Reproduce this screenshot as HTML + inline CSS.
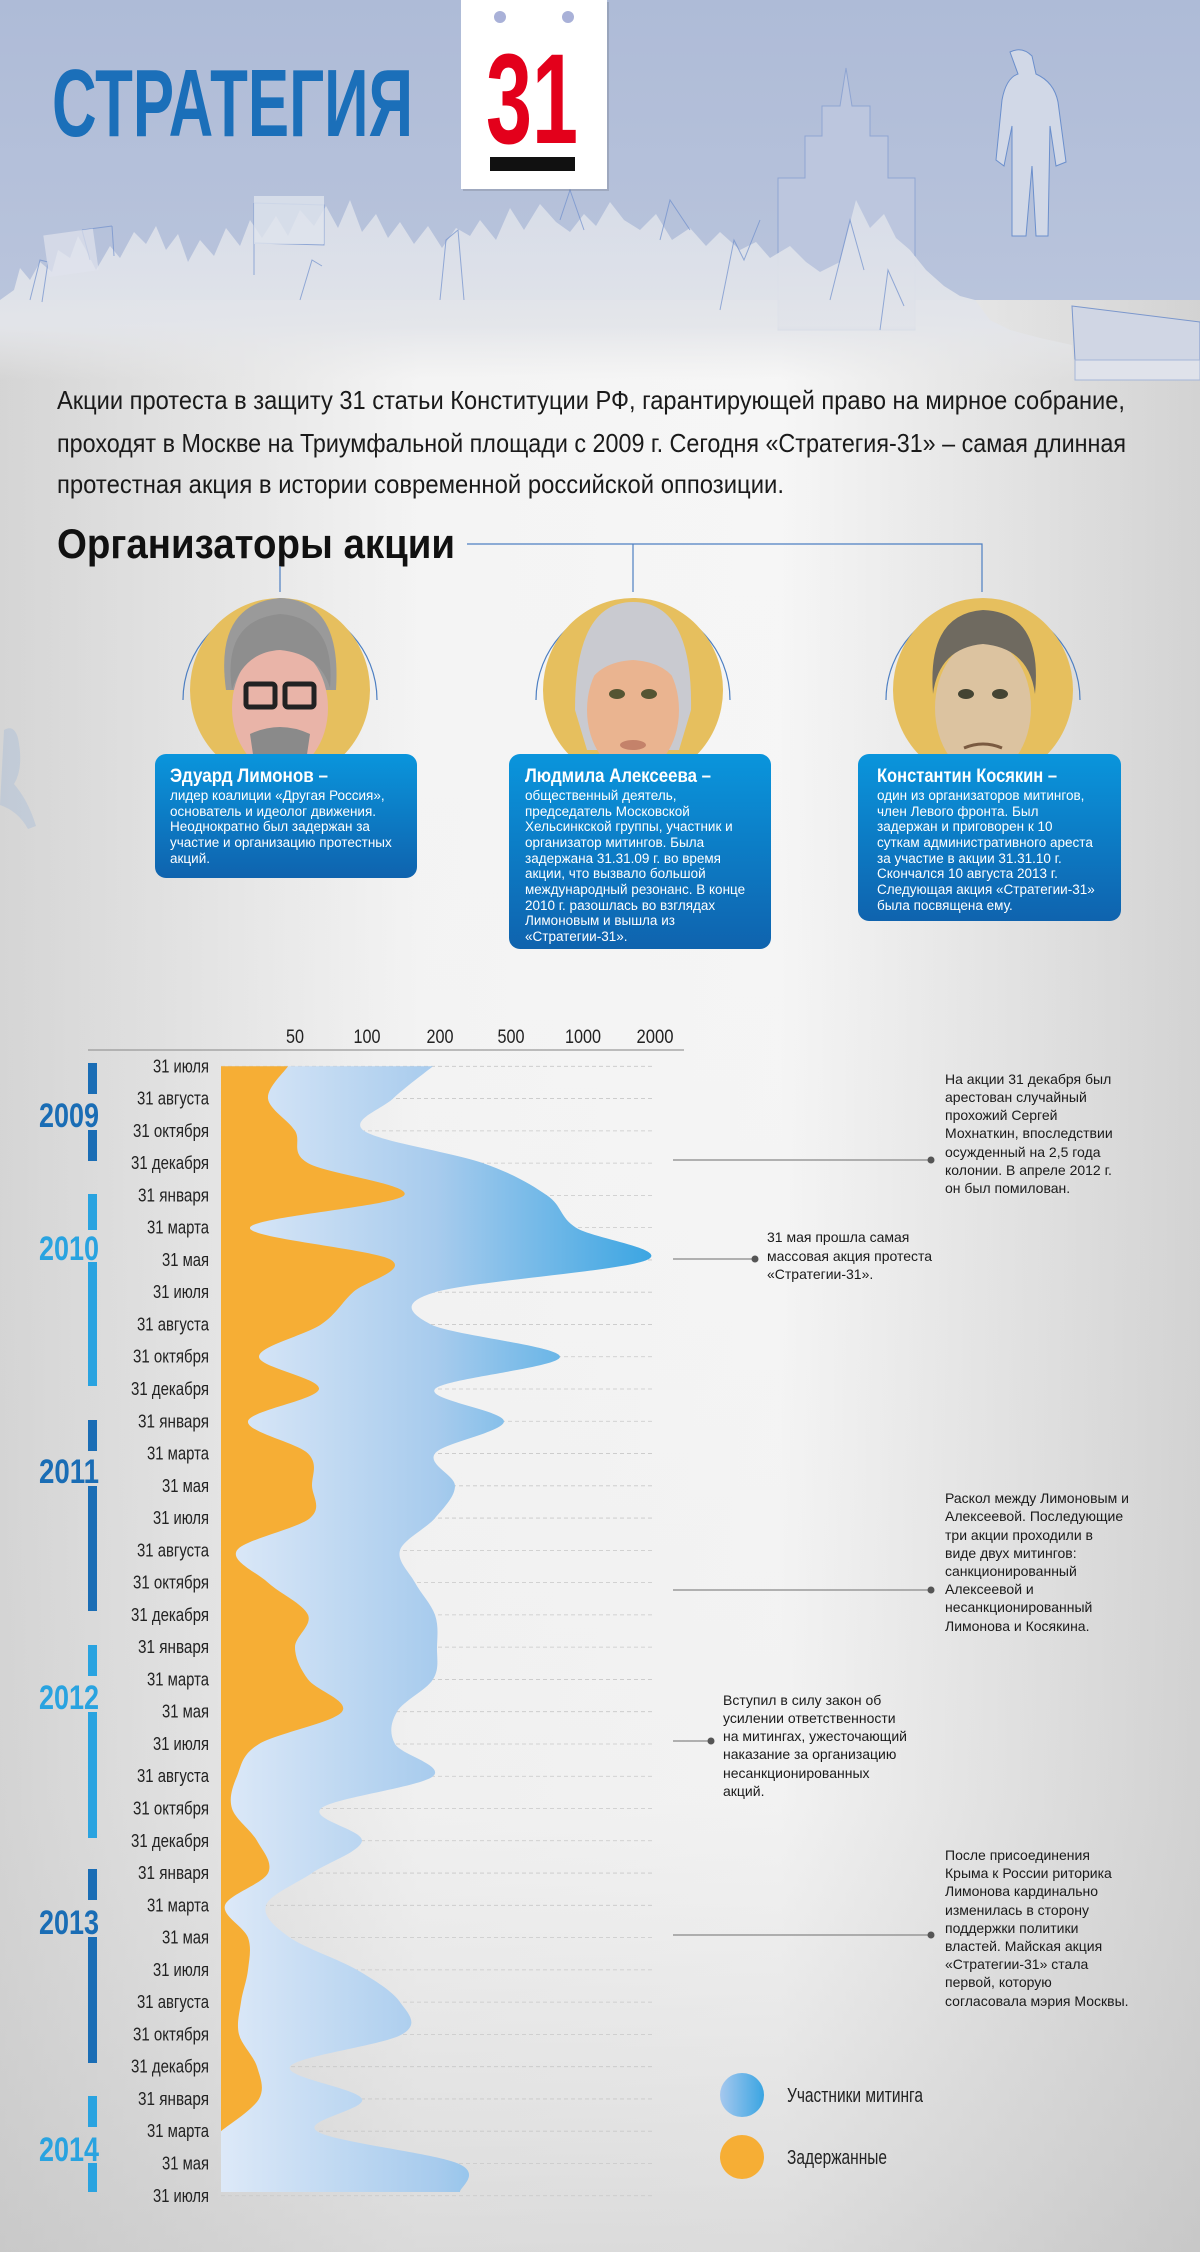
<!DOCTYPE html>
<html><head><meta charset="utf-8">
<style>
html,body{margin:0;padding:0;}
body{width:1200px;height:2252px;overflow:hidden;background:#eee;}
svg{display:block}
text{font-family:"Liberation Sans",sans-serif;}
</style></head>
<body>
<svg id="s" width="1200" height="2252" viewBox="0 0 1200 2252" xmlns="http://www.w3.org/2000/svg">
<defs>
<linearGradient id="bgH" x1="0" y1="0" x2="1" y2="0">
<stop offset="0" stop-color="#d4d4d4"/><stop offset="0.35" stop-color="#f4f4f4"/><stop offset="0.65" stop-color="#f6f6f6"/><stop offset="1" stop-color="#d2d2d2"/>
</linearGradient>
<linearGradient id="bgV" x1="0" y1="0" x2="0" y2="1">
<stop offset="0" stop-color="#fff" stop-opacity="0"/><stop offset="0.8" stop-color="#ccc" stop-opacity="0.1"/><stop offset="1" stop-color="#bbb" stop-opacity="0.45"/>
</linearGradient>
<linearGradient id="head" x1="0" y1="0" x2="0" y2="1">
<stop offset="0" stop-color="#aebbd7"/><stop offset="1" stop-color="#b9c4dc"/>
</linearGradient>
<linearGradient id="crowd" x1="0" y1="0" x2="0" y2="1">
<stop offset="0" stop-color="#d9dee9"/><stop offset="0.7" stop-color="#e3e5ea"/><stop offset="1" stop-color="#e8e8e9" stop-opacity="0"/>
</linearGradient>
<linearGradient id="box" x1="0" y1="0" x2="0" y2="1">
<stop offset="0" stop-color="#0a95dc"/><stop offset="1" stop-color="#0f63ae"/>
</linearGradient>
<linearGradient id="blue" gradientUnits="userSpaceOnUse" x1="221" y1="0" x2="655" y2="0">
<stop offset="0" stop-color="#dde9f8"/><stop offset="0.5" stop-color="#a7cbed"/><stop offset="1" stop-color="#3aa5e2"/>
</linearGradient>
<linearGradient id="legB" x1="0" y1="0" x2="1" y2="0">
<stop offset="0" stop-color="#a6c8ee"/><stop offset="1" stop-color="#3aa5e2"/>
</linearGradient>
</defs>

<rect width="1200" height="2252" fill="url(#bgH)"/>
<rect width="1200" height="2252" fill="url(#bgV)"/>

<rect x="0" y="0" width="1200" height="300" fill="url(#head)"/>
<polygon points="778,330 778,178 805,178 805,136 822,136 822,106 840,106 846,68 852,106 870,106 870,136 888,136 888,178 915,178 915,330" fill="#bcc6de" stroke="#8fa5d2" stroke-width="1"/>
<path d="M1010,52 q12,-6 22,4 l4,18 q18,8 22,28 l8,60 -10,4 -6,-40 -2,110 -12,0 -4,-70 -6,70 -14,0 0,-110 -8,40 -8,-6 6,-60 q4,-22 16,-26 z" fill="#d1d8e7" stroke="#6b8fcc" stroke-width="1"/>
<polygon points="1072,306 1200,322 1200,360 1075,360" fill="#d0d6e4" stroke="#7b97cc" stroke-width="1"/>
<rect x="1075" y="360" width="125" height="20" fill="#dfe2ea" stroke="#a5b6d8" stroke-width="1"/>
<path d="M0,380 L0,300 L14,290 L20,268 L30,280 L40,262 L52,272 L58,250 L70,258 L78,236 L86,250 L96,270 L110,246 L120,258 L134,232 L146,244 L156,226 L166,250 L178,234 L188,262 L200,240 L214,256 L226,228 L240,246 L250,220 L262,238 L276,216 L288,236 L300,210 L314,226 L326,206 L338,228 L350,200 L362,232 L376,214 L388,238 L400,222 L414,244 L428,226 L442,248 L456,228 L470,236 L480,220 L496,240 L510,208 L524,230 L540,204 L556,222 L570,232 L584,214 L596,226 L610,202 L624,220 L640,230 L656,214 L672,240 L690,228 L706,246 L720,232 L740,250 L756,242 L770,258 L790,246 L806,262 L820,272 L840,262 L856,200 L870,228 L884,214 L896,238 L910,250 L926,270 L944,286 L960,296 L975,300 L990,320 L1010,330 L1040,338 L1072,345 L1075,380 Z" fill="url(#crowd)" opacity="0.95"/>
<g stroke="#6f8fcc" stroke-width="1" fill="none" opacity="0.7">
<path d="M30,300 l10,-40 8,2 -6,40"/><path d="M90,260 l-8,-30 M82,230 l30,-4 M112,226 l2,30"/>
<path d="M254,275 l0,-72 M254,203 l70,2 0,40 -70,-2"/><path d="M300,300 l12,-40 10,6"/>
<path d="M440,300 l6,-60 12,-10 6,70"/><path d="M560,220 l10,-30 14,40"/><path d="M660,240 l10,-40 20,30"/>
<path d="M720,310 l14,-70 10,20 16,-40"/><path d="M830,300 l20,-80 14,50"/><path d="M880,330 l8,-60 16,36"/>
</g>
<rect x="254" y="196" width="70" height="48" fill="#dfe3ec" opacity="0.8"/>
<rect x="46" y="232" width="50" height="42" fill="#dfe3ec" opacity="0.7" transform="rotate(-8 70 253)"/>

<rect x="463" y="2" width="146" height="189" fill="#000" opacity="0.12"/>
<rect x="461" y="0" width="146" height="189" fill="#fff"/>
<circle cx="500" cy="17" r="6" fill="#a9b1d8"/>
<circle cx="568" cy="17" r="6" fill="#a9b1d8"/>
<text x="532" y="143" text-anchor="middle" font-size="128" font-weight="bold" fill="#e3001b" textLength="92" lengthAdjust="spacingAndGlyphs">31</text>
<rect x="490" y="157" width="85" height="14" fill="#111"/>

<text x="52" y="136" font-size="96" font-weight="bold" fill="#1b6fb9" textLength="361" lengthAdjust="spacingAndGlyphs">СТРАТЕГИЯ</text>

<g font-size="26" fill="#1a1a1a">
<text x="57" y="409" textLength="1068" lengthAdjust="spacingAndGlyphs">Акции протеста в защиту 31 статьи Конституции РФ, гарантирующей право на мирное собрание,</text>
<text x="57" y="452" textLength="1069" lengthAdjust="spacingAndGlyphs">проходят в Москве на Триумфальной площади с 2009 г. Сегодня «Стратегия-31» – самая длинная</text>
<text x="57" y="493" textLength="727" lengthAdjust="spacingAndGlyphs">протестная акция в истории современной российской оппозиции.</text>
</g>
<text x="57" y="558" font-size="42" font-weight="bold" fill="#111" textLength="398" lengthAdjust="spacingAndGlyphs">Организаторы акции</text>

<g stroke="#4d7fc2" stroke-width="1.2" fill="none">
<path d="M467,544 H982 V592"/><path d="M633,544 V592"/><path d="M280,566 V592"/>
<path d="M183,700 A97,97 0 0 1 377,700"/>
<path d="M536,700 A97,97 0 0 1 730,700"/>
<path d="M886,700 A97,97 0 0 1 1080,700"/>
</g>

<path d="M4,730 q10,-6 14,8 q6,30 -4,46 q14,16 22,42 l-8,3 q-10,-18 -28,-24 z" fill="#9fb6db" opacity="0.35"/>

<g id="faces">
<ellipse cx="280" cy="690" rx="90" ry="92" fill="#e6bf5e"/>
<ellipse cx="633" cy="690" rx="90" ry="92" fill="#e6bf5e"/>
<ellipse cx="983" cy="690" rx="90" ry="92" fill="#e6bf5e"/>
<!-- Limonov -->
<path d="M226,690 q-12,-86 54,-92 q62,2 56,92 z" fill="#9a9a9a"/>
<ellipse cx="280" cy="708" rx="48" ry="64" fill="#e9b4a8"/>
<path d="M232,690 q-10,-70 48,-76 q56,4 50,74 q-10,-34 -50,-38 q-36,2 -48,40z" fill="#8e8e8e"/>
<rect x="246" y="684" width="29" height="23" rx="3" fill="none" stroke="#222" stroke-width="5"/>
<rect x="285" y="684" width="29" height="23" rx="3" fill="none" stroke="#222" stroke-width="5"/>
<path d="M250,734 q30,-14 60,0 l-5,34 q-25,30 -50,0z" fill="#8a8a8a"/>
<!-- Alexeeva -->
<path d="M575,710 q0,-108 58,-108 q60,0 58,108 l-12,40 -92,0z" fill="#c9cad0"/>
<ellipse cx="633" cy="710" rx="46" ry="64" fill="#eab490"/>
<path d="M587,686 q-2,-64 46,-68 q50,2 46,68 q-12,-24 -46,-26 q-34,2 -46,26z" fill="#c9cad0"/>
<ellipse cx="617" cy="694" rx="8" ry="5" fill="#553"/><ellipse cx="649" cy="694" rx="8" ry="5" fill="#553"/>
<ellipse cx="633" cy="745" rx="13" ry="5" fill="#c4826a"/>
<!-- Kosyakin -->
<ellipse cx="983" cy="708" rx="48" ry="68" fill="#dcc3a0"/>
<path d="M933,694 q-6,-80 50,-84 q60,2 52,84 q-6,-46 -52,-50 q-44,4 -50,50z" fill="#6f6a60"/>
<ellipse cx="966" cy="694" rx="8" ry="5" fill="#443"/><ellipse cx="1000" cy="694" rx="8" ry="5" fill="#443"/>
<path d="M964,748 q19,-8 38,0" stroke="#7a5a40" stroke-width="3" fill="none"/>
</g>

<rect x="155" y="754" width="262" height="124" rx="11" fill="url(#box)"/>
<rect x="509" y="754" width="262" height="195" rx="11" fill="url(#box)"/>
<rect x="858" y="754" width="263" height="167" rx="11" fill="url(#box)"/>
<g fill="#fff">
<text x="170" y="782" font-size="19" font-weight="bold" textLength="158" lengthAdjust="spacingAndGlyphs">Эдуард Лимонов –</text>
<text x="525" y="782" font-size="19" font-weight="bold" textLength="186" lengthAdjust="spacingAndGlyphs">Людмила Алексеева –</text>
<text x="877" y="782" font-size="19" font-weight="bold" textLength="180" lengthAdjust="spacingAndGlyphs">Константин Косякин –</text>
<g font-size="13.5">
<text x="170" y="800">лидер коалиции «Другая Россия»,</text>
<text x="170" y="816">основатель и идеолог движения.</text>
<text x="170" y="831">Неоднократно был задержан за</text>
<text x="170" y="847">участие и организацию протестных</text>
<text x="170" y="863">акций.</text>
<text x="525" y="800">общественный деятель,</text>
<text x="525" y="816">председатель Московской</text>
<text x="525" y="831">Хельсинкской группы, участник и</text>
<text x="525" y="847">организатор митингов. Была</text>
<text x="525" y="863">задержана 31.31.09 г. во время</text>
<text x="525" y="878">акции, что вызвало большой</text>
<text x="525" y="894">международный резонанс. В конце</text>
<text x="525" y="910">2010 г. разошлась во взглядах</text>
<text x="525" y="925">Лимоновым и вышла из</text>
<text x="525" y="941">«Стратегии-31».</text>
<text x="877" y="800">один из организаторов митингов,</text>
<text x="877" y="816">член Левого фронта. Был</text>
<text x="877" y="831">задержан и приговорен к 10</text>
<text x="877" y="847">суткам административного ареста</text>
<text x="877" y="863">за участие в акции 31.31.10 г.</text>
<text x="877" y="878">Скончался 10 августа 2013 г.</text>
<text x="877" y="894">Следующая акция «Стратегии-31»</text>
<text x="877" y="910">была посвящена ему.</text>
</g></g>

<line x1="88" y1="1050" x2="684" y2="1050" stroke="#999" stroke-width="1.2"/>
<g font-size="19" fill="#222" text-anchor="middle">
<text x="295" y="1043" textLength="18" lengthAdjust="spacingAndGlyphs">50</text>
<text x="367" y="1043" textLength="27" lengthAdjust="spacingAndGlyphs">100</text>
<text x="440" y="1043" textLength="27" lengthAdjust="spacingAndGlyphs">200</text>
<text x="511" y="1043" textLength="27" lengthAdjust="spacingAndGlyphs">500</text>
<text x="583" y="1043" textLength="36" lengthAdjust="spacingAndGlyphs">1000</text>
<text x="655" y="1043" textLength="37" lengthAdjust="spacingAndGlyphs">2000</text>
</g>
<g id="grid"></g>
<path id="bluePath" fill="url(#blue)"/>
<path id="orPath" fill="#f6ae35"/>
<g id="labels" font-size="18" fill="#222" text-anchor="end"></g>

<g>
<rect x="88" y="1063" width="9" height="31" fill="#1a6db5"/><rect x="88" y="1130" width="9" height="31" fill="#1a6db5"/>
<text x="39" y="1127" font-size="34" font-weight="bold" fill="#1a6db5" textLength="60" lengthAdjust="spacingAndGlyphs">2009</text>
<rect x="88" y="1194" width="9" height="36" fill="#29a3e0"/><rect x="88" y="1262" width="9" height="124" fill="#29a3e0"/>
<text x="39" y="1260" font-size="34" font-weight="bold" fill="#29a3e0" textLength="60" lengthAdjust="spacingAndGlyphs">2010</text>
<rect x="88" y="1420" width="9" height="31" fill="#1a6db5"/><rect x="88" y="1486" width="9" height="125" fill="#1a6db5"/>
<text x="39" y="1483" font-size="34" font-weight="bold" fill="#1a6db5" textLength="60" lengthAdjust="spacingAndGlyphs">2011</text>
<rect x="88" y="1645" width="9" height="31" fill="#29a3e0"/><rect x="88" y="1712" width="9" height="126" fill="#29a3e0"/>
<text x="39" y="1709" font-size="34" font-weight="bold" fill="#29a3e0" textLength="60" lengthAdjust="spacingAndGlyphs">2012</text>
<rect x="88" y="1869" width="9" height="31" fill="#1a6db5"/><rect x="88" y="1937" width="9" height="126" fill="#1a6db5"/>
<text x="39" y="1934" font-size="34" font-weight="bold" fill="#1a6db5" textLength="60" lengthAdjust="spacingAndGlyphs">2013</text>
<rect x="88" y="2096" width="9" height="31" fill="#29a3e0"/><rect x="88" y="2163" width="9" height="29" fill="#29a3e0"/>
<text x="39" y="2161" font-size="34" font-weight="bold" fill="#29a3e0" textLength="60" lengthAdjust="spacingAndGlyphs">2014</text>
</g>

<g stroke="#888" stroke-width="1.2">
<line x1="673" y1="1160" x2="931" y2="1160"/><line x1="673" y1="1259" x2="755" y2="1259"/>
<line x1="673" y1="1590" x2="931" y2="1590"/><line x1="673" y1="1741" x2="711" y2="1741"/>
<line x1="673" y1="1935" x2="931" y2="1935"/>
</g>
<g fill="#555"><circle cx="931" cy="1160" r="3.5"/><circle cx="755" cy="1259" r="3.5"/><circle cx="931" cy="1590" r="3.5"/><circle cx="711" cy="1741" r="3.5"/><circle cx="931" cy="1935" r="3.5"/></g>
<g font-size="14" fill="#1a1a1a">
<text x="945" y="1084">На акции 31 декабря был</text>
<text x="945" y="1102">арестован случайный</text>
<text x="945" y="1120">прохожий Сергей</text>
<text x="945" y="1138">Мохнаткин, впоследствии</text>
<text x="945" y="1157">осужденный на 2,5 года</text>
<text x="945" y="1175">колонии. В апреле 2012 г.</text>
<text x="945" y="1193">он был помилован.</text>
<text x="767" y="1242">31 мая прошла самая</text>
<text x="767" y="1261">массовая акция протеста</text>
<text x="767" y="1279">«Стратегии-31».</text>
<text x="945" y="1503">Раскол между Лимоновым и</text>
<text x="945" y="1521">Алексеевой. Последующие</text>
<text x="945" y="1540">три акции проходили в</text>
<text x="945" y="1558">виде двух митингов:</text>
<text x="945" y="1576">санкционированный</text>
<text x="945" y="1594">Алексеевой и</text>
<text x="945" y="1612">несанкционированный</text>
<text x="945" y="1631">Лимонова и Косякина.</text>
<text x="723" y="1705">Вступил в силу закон об</text>
<text x="723" y="1723">усилении ответственности</text>
<text x="723" y="1741">на митингах, ужесточающий</text>
<text x="723" y="1759">наказание за организацию</text>
<text x="723" y="1778">несанкционированных</text>
<text x="723" y="1796">акций.</text>
<text x="945" y="1860">После присоединения</text>
<text x="945" y="1878">Крыма к России риторика</text>
<text x="945" y="1896">Лимонова кардинально</text>
<text x="945" y="1915">изменилась в сторону</text>
<text x="945" y="1933">поддержки политики</text>
<text x="945" y="1951">властей. Майская акция</text>
<text x="945" y="1969">«Стратегии-31» стала</text>
<text x="945" y="1987">первой, которую</text>
<text x="945" y="2006">согласовала мэрия Москвы.</text>
</g>

<circle cx="742" cy="2095" r="22" fill="url(#legB)"/>
<circle cx="742" cy="2157" r="22" fill="#f6ae35"/>
<text x="787" y="2102" font-size="20" fill="#222" textLength="136" lengthAdjust="spacingAndGlyphs">Участники митинга</text>
<text x="787" y="2164" font-size="20" fill="#222" textLength="100" lengthAdjust="spacingAndGlyphs">Задержанные</text>
</svg>
<script>
(function(){
var NS="http://www.w3.org/2000/svg";
var y0=1066.3, dy=32.27;
var seq=["31 июля","31 августа","31 октября","31 декабря"];
var yr=["31 января","31 марта","31 мая","31 июля","31 августа","31 октября","31 декабря"];
var all=seq.slice();
for(var k=0;k<4;k++) all=all.concat(yr);
all=all.concat(["31 января","31 марта","31 мая","31 июля"]);
var w={"31 июля":56,"31 августа":72,"31 октября":76,"31 декабря":78,"31 января":71,"31 марта":62,"31 мая":47};
var grid=document.getElementById("grid"), lab=document.getElementById("labels");
for(var i=0;i<all.length;i++){
 var y=y0+i*dy;
 var l=document.createElementNS(NS,"line");
 l.setAttribute("x1",221);l.setAttribute("x2",655);l.setAttribute("y1",y);l.setAttribute("y2",y);
 l.setAttribute("stroke","#c8c8c8");l.setAttribute("stroke-dasharray","4 3");l.setAttribute("stroke-width","0.8");
 grid.appendChild(l);
 var t=document.createElementNS(NS,"text");
 t.setAttribute("x",209);t.setAttribute("y",y+6);
 t.setAttribute("textLength",w[all[i]]);t.setAttribute("lengthAdjust","spacingAndGlyphs");
 t.textContent=all[i];lab.appendChild(t);
}
function cr(pts){
 var d="";
 for(var i=0;i<pts.length-1;i++){
  var p0=pts[i-1]||pts[i],p1=pts[i],p2=pts[i+1],p3=pts[i+2]||p2;
  var c1x=p1[0]+(p2[0]-p0[0])/6,c1y=p1[1]+(p2[1]-p0[1])/6;
  var c2x=p2[0]-(p3[0]-p1[0])/6,c2y=p2[1]-(p3[1]-p1[1])/6;
  d+=" C"+c1x.toFixed(1)+","+c1y.toFixed(1)+" "+c2x.toFixed(1)+","+c2y.toFixed(1)+" "+p2[0].toFixed(1)+","+p2[1].toFixed(1);
 }
 return d;
}
var orX=[288,268,295,308,404,250,391,353,321,259,319,248,308,312,310,237,268,308,295,308,342,259,237,232,257,268,225,248,248,241,239,257,259,221];
var blX=[433,393,364,483,547,576,647,435,431,560,435,504,435,455,435,400,415,435,437,433,397,395,433,321,362,312,266,290,357,400,402,290,362,317,458,460];
function pts(a){return a.map(function(x,i){return [x,y0+i*dy];});}
var po=pts(orX), pb=pts(blX);
document.getElementById("orPath").setAttribute("d","M221,"+y0+" L"+po[0][0]+","+y0+cr(po)+" L221,"+po[po.length-1][1]+" Z");
pb[pb.length-1][1]=2192;
document.getElementById("bluePath").setAttribute("d","M221,"+y0+" L"+pb[0][0]+","+y0+cr(pb)+" L221,2192 Z");
})();
</script>
</body></html>
